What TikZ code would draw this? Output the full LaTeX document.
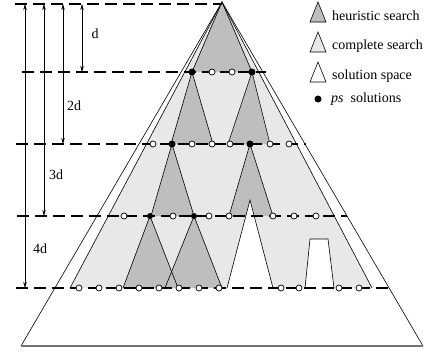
\documentclass[tikz,border=0pt]{standalone}
\usepackage{fontspec}
\setmainfont{Liberation Serif}
\usetikzlibrary{arrows.meta}
\definecolor{heur}{RGB}{190,190,193}
\definecolor{compl}{RGB}{232,232,234}
\begin{document}
\begin{tikzpicture}[x=1pt,y=-1pt,
  edge/.style={draw=black,line width=0.6pt,line join=miter},
  levelline/.style={line width=1.4pt,dash pattern=on 12pt off 6pt},
  wdot/.style={circle,draw=black,fill=white,line width=0.7pt,inner sep=0pt,minimum size=6pt},
  bdot/.style={circle,fill=black,inner sep=0pt,minimum size=7pt},
  dimline/.style={line width=0.6pt,{Stealth[length=6pt,width=3.5pt]}-{Stealth[length=6pt,width=3.5pt]}},
  lab/.style={font=\fontsize{14}{16}\selectfont,inner sep=0pt},
  legtri/.style={draw=black,line width=0.6pt},
]
\useasboundingbox (0,0) rectangle (428,354);
% key points
\coordinate (apex) at (222,2);
\coordinate (oL) at (21,346);
\coordinate (oR) at (423,346);
\coordinate (cL) at (70,288);
\coordinate (cR) at (372,288);
% solution space (outer triangle)
\fill[white] (apex)--(oL)--(oR)--cycle;
\draw[edge] (oL)--(apex)--(oR);
\draw[black!55,line width=1.6pt] (oL)--(oR);
% complete search region
\fill[compl] (apex)--(cL)--(cR)--cycle;
% heuristic search triangles
\fill[heur] (apex)--(192,72)--(252,72)--cycle;
\fill[heur] (192,72)--(171,144)--(213,144)--cycle;
\fill[heur] (252,72)--(228,144)--(270,144)--cycle;
\fill[heur] (172,144)--(151,216)--(194,216)--cycle;
\fill[heur] (250,144)--(229,216)--(273,216)--cycle;
\fill[heur] (150,216)--(123,288)--(178,288)--cycle;
\fill[heur] (194,216)--(165,288)--(222,288)--cycle;
% white cut-outs
\fill[white] (227,288)--(250,200)--(273,288)--cycle;
\fill[white] (305,288)--(310,239)--(328,239)--(334,288)--cycle;
% outlines
\draw[edge] (cL)--(apex)--(cR);
\draw[edge] (192,72)--(apex)--(252,72);
\draw[edge] (171,144)--(192,72)--(213,144);
\draw[edge] (228,144)--(252,72)--(270,144);
\draw[edge] (151,216)--(172,144)--(194,216);
\draw[edge] (229,216)--(250,144)--(273,216);
\draw[edge] (123,288)--(150,216)--(178,288);
\draw[edge] (165,288)--(194,216)--(222,288);
\draw[edge] (227,288)--(250,200)--(273,288);
\draw[edge] (305,288)--(310,239)--(328,239)--(334,288);
% level lines
\coordinate (L0a) at (15,4);   \coordinate (L0b) at (222,4);
\coordinate (L1a) at (22,72);  \coordinate (L1b) at (266,72);
\coordinate (L2a) at (16,144); \coordinate (L2b) at (306,144);
\coordinate (L3a) at (17,216); \coordinate (L3b) at (347,216);
\coordinate (L4a) at (16,288); \coordinate (L4b) at (389,288);
\draw[levelline] (L0a)--(L0b);
\draw[levelline] (L1a)--(L1b);
\draw[levelline] (L2a)--(L2b);
\draw[levelline] (L3a)--(L3b);
\draw[levelline] (L4a)--(L4b);
% dots level 1
\node[bdot] (a1) at (192,72) {};
\node[wdot] (a2) at (212,72) {};
\node[wdot] (a3) at (232,72) {};
\node[bdot] (a4) at (252,72) {};
% dots level 2
\foreach \x [count=\i] in {153,192,212,230,270,289} \node[wdot] (b\i) at (\x,144) {};
\node[bdot] (bb1) at (172,144) {};
\node[bdot] (bb2) at (250,144) {};
% dots level 3
\foreach \x [count=\i] in {124,173,209,229,273,294,316} \node[wdot] (c\i) at (\x,216) {};
\node[bdot,minimum size=6pt] (cb1) at (150,216) {};
\node[bdot,minimum size=6pt] (cb2) at (194,216) {};
% dots level 4
\foreach \x [count=\i] in {79,99,119,139,159,179,199,219,281,299,339,359} \node[wdot] (e\i) at (\x,288) {};
% dimension lines
\coordinate (t1) at (82,4);  \coordinate (b1) at (82,72);
\coordinate (t2) at (63,4);  \coordinate (b2) at (63,144);
\coordinate (t3) at (44,4);  \coordinate (b3) at (44,216);
\coordinate (t4) at (25,4);  \coordinate (b4) at (25,288);
\draw[dimline] (t1)--(b1);
\draw[dimline] (t2)--(b2);
\draw[dimline] (t3)--(b3);
\draw[dimline] (t4)--(b4);
\node[lab] (ld1) at (95,34) {d};
\node[lab] (ld2) at (74,106) {2d};
\node[lab] (ld3) at (56,175) {3d};
\node[lab] (ld4) at (40,249) {4d};
% legend
\filldraw[legtri,fill=heur] (318,2)--(310,22)--(326,22)--cycle;
\filldraw[legtri,fill=compl] (318,32)--(310,52)--(326,52)--cycle;
\filldraw[legtri,fill=white] (318,62)--(310,82)--(326,82)--cycle;
\node[bdot,minimum size=7pt] (legdot) at (318,99) {};
\node[lab,anchor=west] (lg1) at (332,16) {heuristic search};
\node[lab,anchor=west] (lg2) at (332,46) {complete search};
\node[lab,anchor=west] (lg3) at (332,76) {solution space};
\node[lab,anchor=west] (lg4) at (331,99) {\textit{ps}\hspace{0.5em}solutions};
\end{tikzpicture}
\end{document}
